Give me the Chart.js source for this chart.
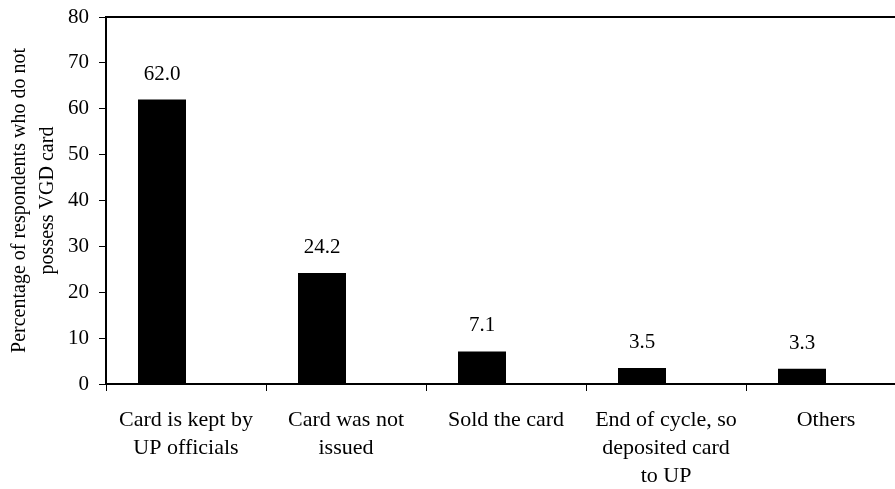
<!DOCTYPE html>
<html>
<head>
<meta charset="utf-8">
<script src="https://cdn.jsdelivr.net/npm/chart.js@4/dist/chart.umd.min.js"></script>
<style>
  html, body { margin: 0; padding: 0; background: #fff; overflow: hidden; }
  #frame { width: 895px; height: 489px; overflow: hidden; }
  #wrap { width: 906px; height: 489px; }
</style>
</head>
<body>
<div id="frame"><div id="wrap"><canvas id="myChart"></canvas></div></div>
<script>
const categories = [
    ['Card is kept by', 'UP officials'],
    ['Card was not', 'issued'],
    ['Sold the card'],
    ['End of cycle, so', 'deposited card', 'to UP'],
    ['Others']
];
const shares = [62.0, 24.2, 7.1, 3.5, 3.3];
// empty second series: the original chart leaves a gap right of each bar
const spacer = [null, null, null, null, null];
const yTicks = [0, 10, 20, 30, 40, 50, 60, 70, 80];

const serif = 'Liberation Serif, Times New Roman, serif';

// value labels above each bar
const barLabels = {
    id: 'barLabels',
    afterDatasetsDraw(chart) {
        const ctx = chart.ctx;
        const meta = chart.getDatasetMeta(0);
        ctx.save();
        ctx.font = '21px ' + serif;
        ctx.fillStyle = '#000';
        ctx.textAlign = 'center';
        ctx.textBaseline = 'alphabetic';
        meta.data.forEach((bar, i) => {
            ctx.fillText(shares[i].toFixed(1), bar.x, bar.y - 20);
        });
        ctx.restore();
    }
};

const topLine = {
    id: 'topLine',
    afterDraw(chart) {
        const a = chart.chartArea;
        const c = chart.ctx;
        c.save();
        c.strokeStyle = '#000';
        c.lineWidth = 2;
        c.beginPath();
        c.moveTo(a.left - 1, a.top);
        c.lineTo(chart.width, a.top);
        c.stroke();
        c.restore();
    }
};

const ctx = document.getElementById('myChart').getContext('2d');
const chart = new Chart(ctx, {
    type: 'bar',
    data: {
        labels: categories,
        datasets: [{
            data: shares,
            backgroundColor: '#000',
            borderWidth: 0,
            barPercentage: 1,
            categoryPercentage: 0.6
        }, {
            data: spacer,
            backgroundColor: 'rgba(0,0,0,0)',
            barPercentage: 1,
            categoryPercentage: 0.6
        }]
    },
    options: {
        responsive: true,
        maintainAspectRatio: false,
        animation: false,
        layout: { padding: { top: 17, right: 0, left: 0, bottom: 0 } },
        plugins: {
            legend: { display: false },
            tooltip: { enabled: false }
        },
        scales: {
            x: {
                grid: {
                    display: true,
                    offset: true,
                    drawOnChartArea: false,
                    tickLength: 7,
                    color: '#000',
                    lineWidth: 1
                },
                border: { color: '#000', width: 2 },
                ticks: {
                    color: '#000',
                    font: { family: serif, size: 22, lineHeight: 1.27 },
                    maxRotation: 0,
                    autoSkip: false,
                    padding: 15
                },
                afterFit(scale) { scale.height = 105; }
            },
            y: {
                min: 0,
                max: 80,
                afterBuildTicks(scale) { scale.ticks = yTicks.map(v => ({ value: v })); },
                grid: {
                    display: true,
                    drawOnChartArea: false,
                    tickLength: 7,
                    color: '#000',
                    lineWidth: 1
                },
                border: { color: '#000', width: 2 },
                ticks: {
                    color: '#000',
                    font: { family: serif, size: 21 },
                    padding: 10
                },
                title: {
                    display: true,
                    text: ['Percentage of respondents who do not', 'possess VGD card'],
                    color: '#000',
                    font: { family: serif, size: 20, lineHeight: 1.4 },
                    padding: { top: 6, bottom: 0 }
                },
                afterFit(scale) {
                    scale.width = 106;
                    scale.paddingTop = 0;
                    scale.paddingBottom = 0;
                }
            }
        }
    },
    plugins: [barLabels, topLine]
});
</script>
</body>
</html>
